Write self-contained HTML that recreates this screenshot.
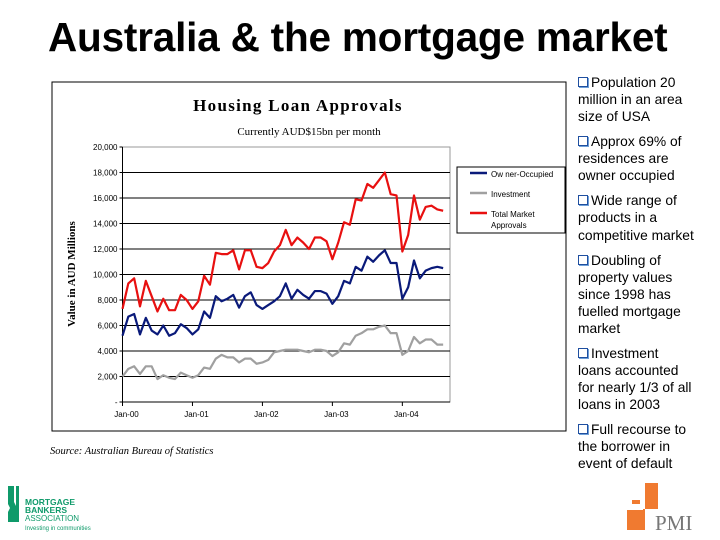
<!DOCTYPE html>
<html><head><meta charset="utf-8">
<style>
body{margin:0;width:720px;height:540px;background:#fff;position:relative;overflow:hidden;font-family:"Liberation Sans",Arial,sans-serif}
#title{position:absolute;left:48px;top:14px;font-size:40.5px;font-weight:bold;color:#000;white-space:nowrap;letter-spacing:-0.2px}
#bullets{position:absolute;left:578px;top:74px;width:140px;font-size:13.8px;line-height:17.1px;color:#000;white-space:nowrap}
#bullets p{margin:0 0 7.9px 0}
.cb{display:inline-block;width:8px;height:8px;border:1.5px solid #1f4fa0;box-shadow:1px 1px 0 #6fa0d8;margin-right:3px;vertical-align:0px;line-height:0}
#source{position:absolute;left:50px;top:446px;font-family:"Liberation Serif",serif;font-style:italic;font-size:10.5px}
</style></head><body>
<div id="title">Australia &amp; the mortgage market</div>
<svg id="chart" width="720" height="540" style="position:absolute;left:0;top:0">
<rect x="52" y="82" width="514" height="349" fill="#fff" stroke="#000" stroke-width="1"/>
<text x="298" y="111" text-anchor="middle" font-family="Liberation Serif,serif" font-size="17" font-weight="bold" letter-spacing="1.3">Housing Loan Approvals</text>
<text x="309" y="135" text-anchor="middle" font-family="Liberation Serif,serif" font-size="11">Currently AUD$15bn per month</text>
<text transform="translate(75,274) rotate(-90)" text-anchor="middle" font-family="Liberation Serif,serif" font-size="11" font-weight="bold">Value in AUD Millions</text>
<g id="grid"></g><g id="axes"></g><g id="series"></g>
<g>
<rect x="457" y="167" width="108" height="66" fill="#fff" stroke="#000"/>
<line x1="470" y1="173" x2="487" y2="173" stroke="#0a1a7a" stroke-width="2.5"/>
<text x="491" y="177" font-size="8">Ow ner-Occupied</text>
<line x1="470" y1="193" x2="487" y2="193" stroke="#a0a0a0" stroke-width="2.5"/>
<text x="491" y="197" font-size="8">Investment</text>
<line x1="470" y1="213" x2="487" y2="213" stroke="#e81010" stroke-width="2.5"/>
<text x="491" y="217" font-size="8">Total Market</text>
<text x="491" y="228" font-size="8">Approvals</text>
</g>
<g>
<path d="M8,486 L14,486 L14,502 L16,506 L16,522 L8,522 L8,512 L10,508 L8,504 Z" fill="#0f9a6a"/>
<rect x="16" y="486" width="3" height="36" fill="#0f9a6a"/>
<text x="25" y="505" font-size="8.5" font-weight="bold" fill="#0f9a6a">MORTGAGE</text>
<text x="25" y="513" font-size="8.5" font-weight="bold" fill="#0f9a6a">BANKERS</text>
<text x="25" y="521" font-size="8" fill="#0f9a6a">ASSOCIATION</text>
<text x="25" y="530" font-size="6" fill="#0f9a6a">Investing in communities</text>
</g>
<g>
<rect x="645" y="483" width="13" height="26" fill="#f07a30"/>
<rect x="632" y="500" width="8" height="4" fill="#f07a30"/>
<rect x="627" y="510" width="16" height="20" fill="#f07a30"/>
<rect x="643" y="509" width="2" height="21" fill="#f07a30"/>
<text x="655" y="530" font-family="Liberation Serif,serif" font-size="21" fill="#777">PMI</text>
</g>
</svg>
<div id="source">Source: Australian Bureau of Statistics</div>
<div id="bullets">
<p><span class="cb"></span>Population 20<br>million in an area<br>size of USA</p>
<p><span class="cb"></span>Approx 69% of<br>residences are<br>owner occupied</p>
<p><span class="cb"></span>Wide range of<br>products in a<br>competitive market</p>
<p><span class="cb"></span>Doubling of<br>property values<br>since 1998 has<br>fuelled mortgage<br>market</p>
<p><span class="cb"></span>Investment<br>loans accounted<br>for nearly 1/3 of all<br>loans in 2003</p>
<p><span class="cb"></span>Full recourse to<br>the borrower in<br>event of default</p>
</div>
<script>
const yTicks=[0,2000,4000,6000,8000,10000,12000,14000,16000,18000,20000];
const yTickLabels=["-","2,000","4,000","6,000","8,000","10,000","12,000","14,000","16,000","18,000","20,000"];
const xTickLabels=["Jan-00","Jan-01","Jan-02","Jan-03","Jan-04"];
const ownerOccupied=[5200,6700,6900,5300,6600,5600,5300,6000,5200,5400,6100,5800,5300,5700,7100,6600,8300,7900,8100,8400,7400,8300,8600,7600,7300,7600,7900,8300,9300,8100,8800,8400,8100,8700,8700,8500,7700,8300,9500,9300,10600,10300,11400,11000,11500,11900,10900,10900,8100,9000,11100,9700,10300,10500,10600,10500];
const investment=[2000,2600,2800,2200,2800,2800,1800,2100,1900,1800,2300,2100,1900,2100,2700,2600,3400,3700,3500,3500,3100,3400,3400,3000,3100,3300,3900,4000,4100,4100,4100,4000,3900,4100,4100,4000,3600,3900,4600,4500,5200,5400,5700,5700,5900,6000,5400,5400,3700,4000,5100,4600,4900,4900,4500,4500];
const totalApprovals=[7300,9300,9700,7500,9500,8300,7100,8100,7200,7200,8400,8000,7300,7900,9900,9200,11700,11600,11600,11900,10400,11900,11900,10600,10500,10900,11800,12300,13500,12300,12900,12500,12000,12900,12900,12600,11200,12500,14100,13900,15900,15800,17100,16800,17400,18000,16300,16200,11800,13100,16200,14300,15300,15400,15100,15000];
const NS="http://www.w3.org/2000/svg";
const x0=122.5,pxMonth=5.83,x1=450,yB=402,yT=147;
const X=i=>x0+i*pxMonth;
const Y=v=>yB-(v/20000)*(yB-yT);
function mk(tag,attrs,parent){const e=document.createElementNS(NS,tag);for(const k in attrs)e.setAttribute(k,attrs[k]);parent.appendChild(e);return e;}
const grid=document.getElementById('grid'),axes=document.getElementById('axes'),ser=document.getElementById('series');
mk('rect',{x:x0,y:yT,width:x1-x0,height:yB-yT,fill:'#fff',stroke:'#999','stroke-width':1},grid);
yTicks.forEach((v,i)=>{
  if(v>0&&v<20000){const g=mk('line',{x1:x0,x2:x1,y1:Y(v),y2:Y(v),stroke:'#000','stroke-width':1},grid);
  
  }
  mk('line',{x1:x0-3,x2:x0,y1:Y(v),y2:Y(v),stroke:'#000'},axes);
  const t=mk('text',{x:x0-5,y:Y(v)+3,'text-anchor':'end','font-size':8},axes);
  t.textContent=yTickLabels[i];
  
  
});
mk('line',{x1:x0,x2:x0,y1:yT,y2:yB,stroke:'#000'},axes);
mk('line',{x1:x0,x2:x1,y1:yB,y2:yB,stroke:'#000'},axes);
xTickLabels.forEach((l,i)=>{
  const xx=X(i*12);
  mk('line',{x1:xx,x2:xx,y1:yB,y2:yB+4,stroke:'#000'},axes);
  const t=mk('text',{x:xx+4,y:yB+15,'text-anchor':'middle','font-size':8},axes);
  t.textContent=l;
  
  
});
[[investment,'#a0a0a0','series-investment'],[ownerOccupied,'#0a1a7a','series-owner-occupied'],[totalApprovals,'#e81010','series-total-approvals']].forEach(([d,c,n])=>{
  const p=mk('polyline',{points:d.map((v,i)=>X(i)+','+Y(v)).join(' '),fill:'none',stroke:c,'stroke-width':2.2,'stroke-linejoin':'round'},ser);
  
  
});
</script>
</body></html>
